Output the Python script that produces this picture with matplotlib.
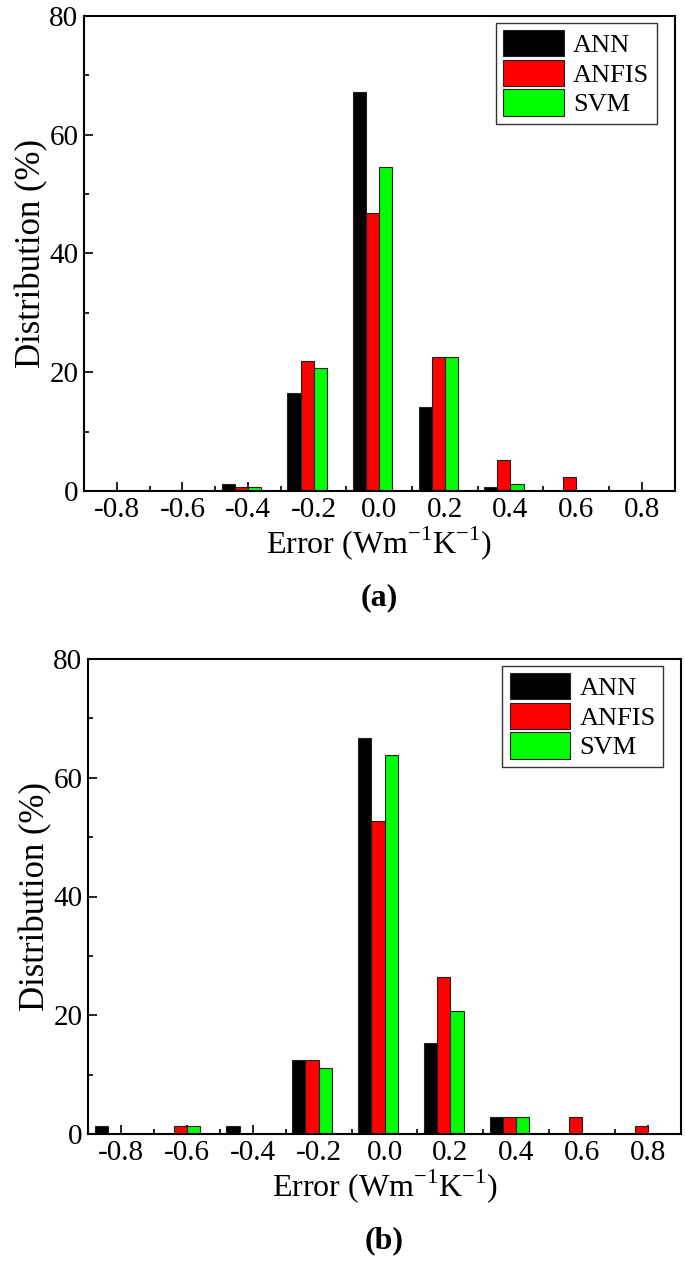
import matplotlib
matplotlib.use("Agg")
import matplotlib.pyplot as plt
from matplotlib.ticker import MultipleLocator
import numpy as np

plt.rcParams['font.family'] = ['Liberation Serif', 'DejaVu Serif']
plt.rcParams['mathtext.fontset'] = 'custom'
plt.rcParams['mathtext.rm'] = 'Liberation Serif'

bins = [-0.8, -0.6, -0.4, -0.2, 0.0, 0.2, 0.4, 0.6, 0.8]
series = ["ANN", "ANFIS", "SVM"]
colors = ["#000000", "#FF0000", "#00FF00"]

a_ann = [0, 0, 1.2, 16.5, 67.2, 14.1, 0.6, 0, 0]
a_anfis = [0, 0, 0.6, 21.9, 46.9, 22.5, 5.3, 2.4, 0]
a_svm = [0, 0, 0.6, 20.7, 54.6, 22.5, 1.2, 0, 0]

b_ann = [1.4, 0, 1.4, 12.5, 66.7, 15.3, 2.8, 0, 0]
b_anfis = [0, 1.4, 0, 12.5, 52.8, 26.4, 2.8, 2.8, 1.4]
b_svm = [0, 1.4, 0, 11.1, 63.9, 20.8, 2.8, 0, 0]

W, H = 685, 1273
fig = plt.figure(figsize=(W / 100, H / 100), dpi=100)

def ax_rect(l, r, t, b):
    return [l / W, 1 - b / H, (r - l) / W, (b - t) / H]

panels = [
    (ax_rect(84, 674.5, 16, 491), [a_ann, a_anfis, a_svm], "(a)"),
    (ax_rect(88, 681, 659, 1134), [b_ann, b_anfis, b_svm], "(b)"),
]

offsets = [-0.06, -0.02, 0.02]
width = 0.04
tick_fs = 21
xlabel_fs = 23
ylabel_fs = 25
leg_fs = 19

for rect, data, tag in panels:
    ax = fig.add_axes(rect)
    x = np.array(bins)
    for vals, name, col, off in zip(data, series, colors, offsets):
        v = np.array(vals, dtype=float)
        ax.bar(x + off, v, width=width, color=col, edgecolor="#222222",
               linewidth=0.8, label=name, zorder=2)
    ax.set_xlim(-0.9, 0.9)
    ax.set_ylim(0, 80)
    ax.xaxis.set_minor_locator(MultipleLocator(0.1))
    ax.yaxis.set_major_locator(MultipleLocator(20))
    ax.yaxis.set_minor_locator(MultipleLocator(10))
    ax.set_xticks(bins)
    ax.set_xticklabels([f"{b:.1f}" for b in bins])
    ax.tick_params(which="both", direction="in", top=False, right=False,
                   width=1.2, labelsize=tick_fs)
    ax.tick_params(which="major", length=6.5, pad=4)
    ax.tick_params(which="minor", length=3.5)
    for s in ax.spines.values():
        s.set_linewidth(1.5)
    ax.set_ylabel("Distribution (%)", fontsize=ylabel_fs, labelpad=1)
    ax.set_xlabel(r"Error (Wm$^{\mathregular{-1}}$K$^{\mathregular{-1}}$)",
                  fontsize=xlabel_fs, labelpad=1)
    leg = ax.legend(loc="upper right", bbox_to_anchor=(0.970, 0.986),
                    borderaxespad=0, fontsize=leg_fs, handlelength=2.3,
                    handleheight=1.15, labelspacing=0.1, borderpad=0.28,
                    handletextpad=0.35, fancybox=False, framealpha=1,
                    edgecolor="#333333")
    leg.get_frame().set_linewidth(1.0)
    ax.text(0.5, -0.225, tag, transform=ax.transAxes, ha="center", va="center",
            fontsize=23, fontweight="bold")

fig.savefig("out.png", dpi=100)
